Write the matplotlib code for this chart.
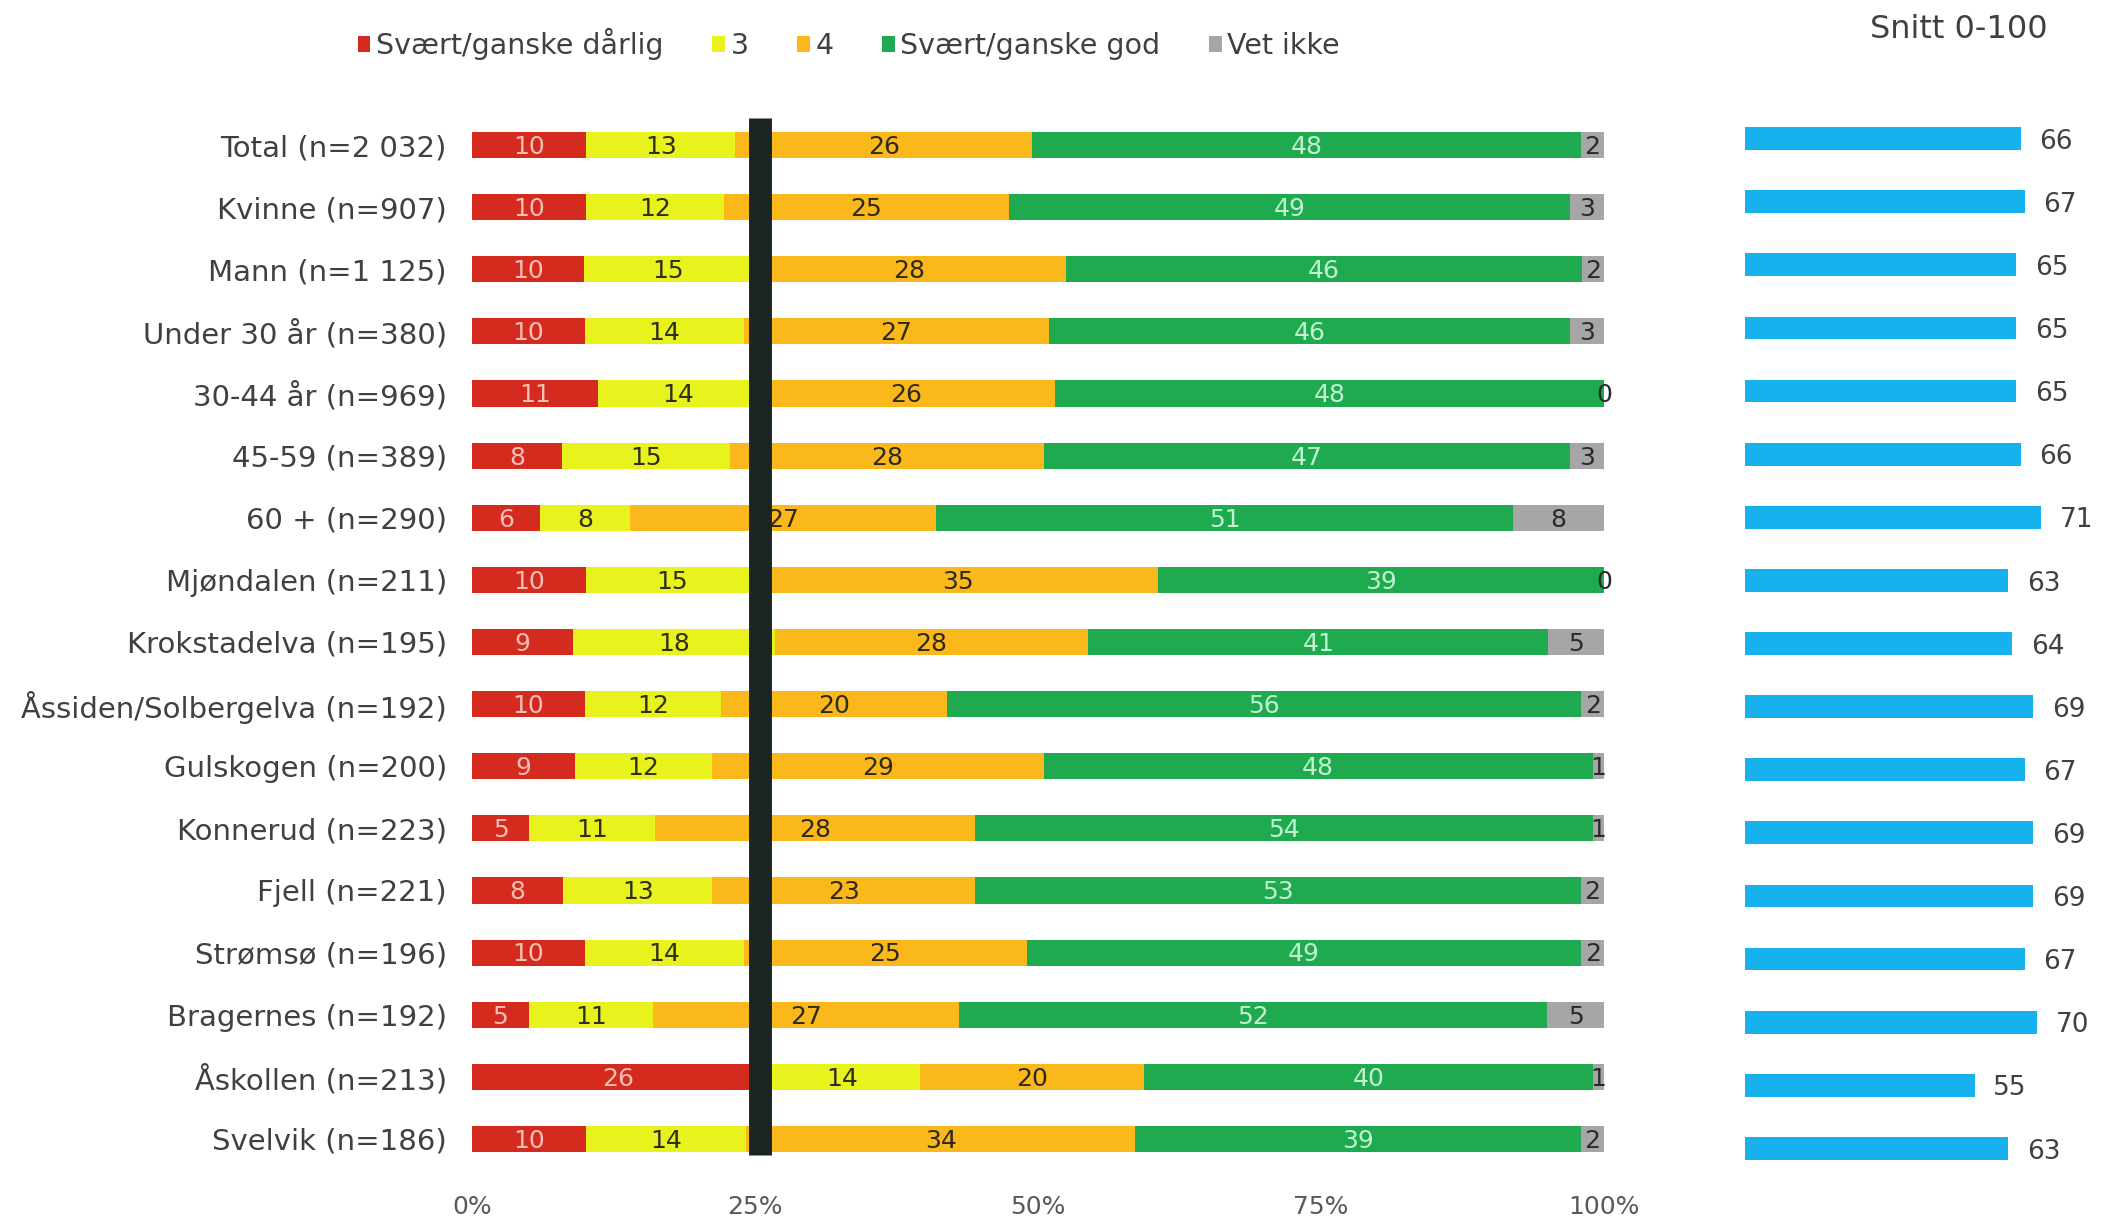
import matplotlib
matplotlib.use("Agg")
import matplotlib.pyplot as plt
import numpy as np
from matplotlib.patches import Patch

categories = ["Total (n=2 032)", "Kvinne (n=907)", "Mann (n=1 125)", "Under 30 år (n=380)",
              "30-44 år (n=969)", "45-59 (n=389)", "60 + (n=290)", "Mjøndalen (n=211)",
              "Krokstadelva (n=195)", "Åssiden/Solbergelva (n=192)", "Gulskogen (n=200)",
              "Konnerud (n=223)", "Fjell (n=221)", "Strømsø (n=196)", "Bragernes (n=192)",
              "Åskollen (n=213)", "Svelvik (n=186)"]
bad   = [10, 10, 10, 10, 11, 8, 6, 10, 9, 10, 9, 5, 8, 10, 5, 26, 10]
three = [13, 12, 15, 14, 14, 15, 8, 15, 18, 12, 12, 11, 13, 14, 11, 14, 14]
four  = [26, 25, 28, 27, 26, 28, 27, 35, 28, 20, 29, 28, 23, 25, 27, 20, 34]
good  = [48, 49, 46, 46, 48, 47, 51, 39, 41, 56, 48, 54, 53, 49, 52, 40, 39]
dk    = [2, 3, 2, 3, 0, 3, 8, 0, 5, 2, 1, 1, 2, 2, 5, 1, 2]
snitt = [66, 67, 65, 65, 65, 66, 71, 63, 64, 69, 67, 69, 69, 67, 70, 55, 63]
series_names = ["Svært/ganske dårlig", "3", "4", "Svært/ganske god", "Vet ikke"]
tick_vals = [0, 25, 50, 75, 100]
tick_labels = ["0%", "25%", "50%", "75%", "100%"]
marker_pos = 25.4

colors = ["#d52a1e", "#e8f21c", "#fbb81a", "#20aa4f", "#a6a6a6"]
label_colors = ["#f6bfb6", "#2e2e1a", "#2e2a1a", "#c0f2d2", "#2a2a2a"]
text_col = "#404040"

W, H = 2101, 1224
fig = plt.figure(figsize=(W / 100, H / 100), dpi=100)

# Left stacked panel
ax = fig.add_axes([472 / W, 1 - 1170 / H, 1132 / W, 1056 / H])
series = np.array([bad, three, four, good, dk], dtype=float)
totals = series.sum(axis=0)
norm = series / totals * 100
y = np.arange(len(categories))
left = np.zeros(len(categories))
for k in range(len(series_names)):
    ax.barh(y, norm[k], left=left, height=0.42, color=colors[k], label=series_names[k],
            edgecolor="none")
    for i in range(len(categories)):
        ax.text(left[i] + norm[k][i] / 2, y[i] + 0.03, str(int(series[k][i])), ha="center",
                va="center", fontsize=18, color=label_colors[k], zorder=6)
    left = left + norm[k]

ax.axvline(marker_pos, ymin=0.014, ymax=0.996, color="#1a2420", lw=16.5, zorder=5,
           solid_capstyle="butt")
ax.set_xlim(0, 100)
ax.set_ylim(len(categories) - 0.5, -0.5)
ax.set_yticks(y)
ax.set_yticklabels(categories, fontsize=21, color=text_col)
ax.set_xticks(tick_vals)
ax.set_xticklabels(tick_labels, fontsize=18, color="#595959")
ax.tick_params(axis="y", length=0, pad=18)
ax.tick_params(axis="x", length=0, pad=18)
for s in ax.spines.values():
    s.set_visible(False)

handles = [Patch(facecolor=c, edgecolor="none") for c in colors]
fig.legend(handles, series_names, loc="center", bbox_to_anchor=(0.404, 0.964), ncol=5,
           frameon=False, fontsize=20.5, handlelength=0.45, handleheight=0.45,
           handletextpad=0.2, columnspacing=1.7, labelcolor=text_col)

# Right panel
ax2 = fig.add_axes([1745 / W, 1 - 1180 / H, 334 / W, 1073 / H])
ax2.barh(y, snitt, height=0.36, color="#17b1ee", edgecolor="none")
for i, v in enumerate(snitt):
    ax2.text(v + 4.5, y[i] + 0.05, str(v), ha="left", va="center", fontsize=19,
             color=text_col)
ax2.set_xlim(0, 80)
ax2.set_ylim(len(categories) - 0.5, -0.5)
ax2.axis("off")

fig.text(1959 / W, 1 - 30 / H, "Snitt 0-100", ha="center", va="center", fontsize=23,
         color=text_col)

fig.savefig("out.png", dpi=100, facecolor="white")
